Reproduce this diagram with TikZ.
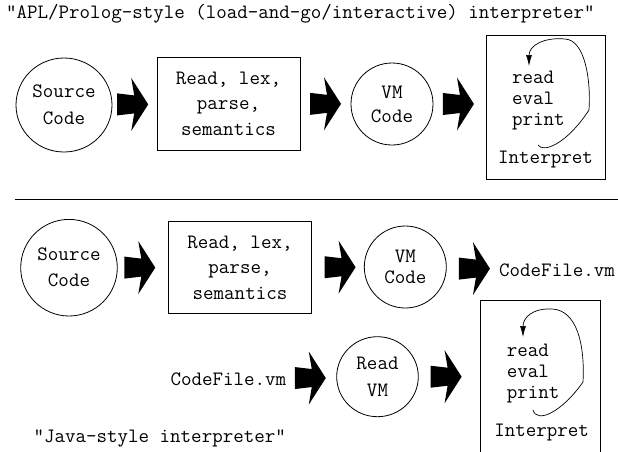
\documentclass[tikz,border=0pt]{standalone}
\usetikzlibrary{shapes.geometric,calc,arrows.meta}
\begin{document}
\tikzset{
  tt/.style={font=\ttfamily\fontsize{20.4pt}{#1}\selectfont, inner sep=0pt},
  tt/.default=25pt,
  circ/.style={draw, ellipse, line width=0.8pt, align=center, inner sep=0pt},
  boxnode/.style={draw, rectangle, line width=0.8pt, align=center, inner sep=0pt},
  bigarrow/.pic={\fill (-15.5,11) -- (1.5,9) -- (-1.5,26.5) -- (15.5,0) -- (-1.5,-26.5) -- (1.5,-9) -- (-15.5,-11) -- cycle;},
  loopline/.style={line width=0.7pt, -{Latex[length=11pt,width=6pt]}}
}
\begin{tikzpicture}[x=1pt,y=-1pt]
\useasboundingbox (0,0) rectangle (618,451);
\clip (0,0) rectangle (618,451);
% top section
\node[tt, anchor=west] (title1) at (6,14) {"APL/Prolog-style (load-and-go/interactive) interpreter"};
\node[circ, tt=26.5pt, minimum width=96pt, minimum height=94pt] (src1) at (64,105) {Source\\Code};
\node[boxnode, tt=25.5pt, minimum width=143pt, minimum height=92.7pt] (box1) at (228.5,103.7) {Read, lex,\\parse,\\semantics};
\node[circ, tt=24pt, minimum width=82pt, minimum height=82pt] (vm1) at (392,104) {VM\\Code};
\node[boxnode, minimum width=119pt, minimum height=144pt] (int1) at (545.5,107) {};
\node[tt=21pt, align=left, anchor=north west] (rep1) at (512,71) {read\\eval\\print};
\node[tt] (lab1) at (545.5,160) {Interpret};
\draw[loopline] (538,145) .. controls (543,153) and (566,145) .. (589,110) .. controls (591,80) and (585,40) .. (565,39) .. controls (545,37) and (529,45) .. (529,66);
\pic at ($(src1.east)!0.46!(box1.west)$) {bigarrow};
\pic at ($(box1.east)!0.5!(vm1.west)$) {bigarrow};
\pic at ($(vm1.east)!0.48!(int1.west |- vm1.east)$) {bigarrow};
% separator
\coordinate (sepL) at (15,199);
\coordinate (sepR) at (618,199);
\draw[line width=0.8pt] (sepL) -- (sepR);
% bottom section
\node[circ, tt=26pt, minimum width=96.6pt, minimum height=96.6pt] (src2) at (69,267.7) {Source\\Code};
\node[boxnode, tt=25.5pt, minimum width=143.4pt, minimum height=91.6pt] (box2) at (240,267.5) {Read, lex,\\parse,\\semantics};
\node[circ, tt=21pt, minimum width=82pt, minimum height=82pt] (vm2) at (405.3,267) {VM\\Code};
\node[tt] (cf1) at (557,270) {CodeFile.vm};
\node[boxnode, minimum width=120pt, minimum height=170pt] (int2) at (540,385) {};
\node[tt=21pt, align=left, anchor=north west] (rep2) at (506.7,343.5) {read\\eval\\print};
\node[tt] (lab2) at (541.7,432.7) {Interpret};
\draw[loopline] (533,410) .. controls (537,424) and (562,412) .. (583,382) .. controls (585,345) and (577,310) .. (552,309) .. controls (532,308) and (523,318) .. (523,337);
\node[tt] (cf2) at (228.3,379.3) {CodeFile.vm};
\node[circ, tt=27.7pt, minimum width=81.6pt, minimum height=80pt] (rvm) at (377.5,376.7) {Read\\VM};
\node[tt, anchor=east] (title2) at (286,438.3) {"Java-style interpreter"};
\pic at ($(src2.east)!0.44!(box2.west)$) {bigarrow};
\pic at ($(box2.east)!0.54!(vm2.west)$) {bigarrow};
\pic at ($(vm2.east)!0.53!(cf1.west)$) {bigarrow};
\pic at ($(cf2.east)!0.48!(rvm.west)$) {bigarrow};
\pic at ($(rvm.east)!0.45!(int2.west |- rvm.east)$) {bigarrow};
\end{tikzpicture}
\end{document}
